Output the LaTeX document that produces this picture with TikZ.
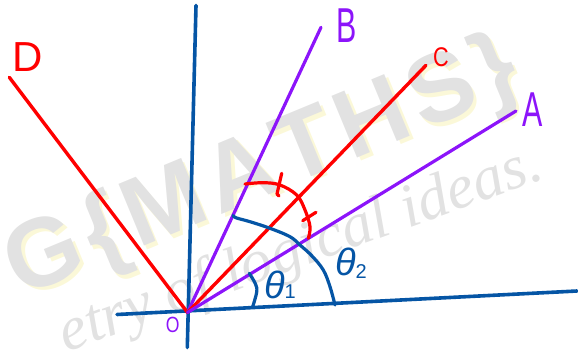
\documentclass[tikz,border=0pt]{standalone}
\usepackage{fontspec}
\setmainfont{Liberation Sans}
\newfontfamily\wmscript{Liberation Serif}
\definecolor{lblue}{RGB}{5,85,165}
\definecolor{lred}{RGB}{255,0,0}
\definecolor{lpurple}{RGB}{140,20,250}
\definecolor{wmgrey}{RGB}{226,226,226}
\definecolor{wmyellow}{RGB}{251,248,216}
\newcommand{\wmgap}{\hspace{7pt}}
\begin{document}
\begin{tikzpicture}[x=1pt,y=-1pt,line cap=round,line join=round,
  blueline/.style={draw=lblue,line width=3.6pt},
  redline/.style={draw=lred,line width=3.4pt},
  purpline/.style={draw=lpurple,line width=3.2pt},
  bluearc/.style={draw=lblue,line width=3.2pt},
  redarc/.style={draw=lred,line width=3.2pt},
  lbl/.style={inner sep=0pt,outer sep=0pt},
  thlbl/.style={lbl,text=lblue,font=\fontsize{38}{38}\selectfont\itshape},
  wmbig/.style={lbl,rotate=22.5,font=\fontsize{97}{97}\selectfont\bfseries},
  wmsmall/.style={lbl,text=wmgrey,rotate=20,font=\wmscript\fontsize{62}{62}\selectfont\itshape}]
\useasboundingbox (0,0) rectangle (578,351);
% watermark
\node[wmbig,text=wmyellow] (wm1s) at (266.5,173.5) {G\wmgap\{\wmgap M\wmgap A\wmgap T\wmgap H\wmgap S\wmgap\}};
\node[wmbig,text=wmgrey] (wm1) at (263,170) {G\wmgap\{\wmgap M\wmgap A\wmgap T\wmgap H\wmgap S\wmgap\}};
\node[wmsmall] (wm2) at (301,251) {etry of logical ideas.};
% points
\coordinate (O) at (187.5,312.5);
\coordinate (Hl) at (117,314.5);
\coordinate (Hr) at (577,291);
\coordinate (Vt) at (196,5.5);
\coordinate (Vb) at (187.3,347.5);
\coordinate (Dp) at (9.3,77.3);
\coordinate (Bp) at (321,27.3);
\coordinate (Cp) at (426,65.3);
\coordinate (Ap) at (516,111);
% axes
\draw[blueline] (Hl) -- (Hr);
\draw[blueline] (Vt) -- (Vb);
% rays
\draw[redline] (Dp) -- (O);
\draw[purpline] (Bp) -- (O);
\draw[redline] (Cp) -- (O);
\draw[purpline] (Ap) -- (O);
% angle marks
\draw[bluearc] plot[smooth,tension=0.6] coordinates {(249.3,273.3) (255.5,284) (256.7,292) (252.7,306.7)};
\draw[bluearc] plot[smooth,tension=0.6] coordinates {(233,215.5) (236,217.8) (250,221.7) (270,228.3) (290,236.7) (300,245) (312,256) (323.3,270) (330,286.7) (335,305)};
\draw[redarc] plot[smooth,tension=0.6] coordinates {(245,184) (263.3,182.7) (280,185) (296.7,195) (305,210) (310,226.7) (308.3,238.3)};
\draw[redarc] (281.7,173.3) -- (277,194) -- (279,196);
\draw[redarc] (302.7,220.7) -- (316,212.3);
% labels
\node[lbl,text=lred,font=\fontsize{42}{42}\selectfont] (D) at (28,57) {D};
\node[lbl,text=lpurple,font=\fontsize{49}{49}\selectfont] (B) at (347,26) {\scalebox{0.62}[1]{B}};
\node[lbl,text=lred,font=\fontsize{27}{27}\selectfont] (C) at (441,57.5) {\scalebox{0.8}[1]{C}};
\node[lbl,text=lpurple,font=\fontsize{49}{49}\selectfont] (A) at (533,110) {\scalebox{0.62}[1]{A}};
\node[lbl,text=lpurple,font=\fontsize{22}{22}\selectfont] (Ol) at (172.7,325) {\scalebox{0.8}[1]{O}};
\node[thlbl,anchor=base west] (t1) at (264,298) {θ\fontsize{20}{20}\selectfont\upshape 1};
\node[thlbl,anchor=base west] (t2) at (335,275) {θ\fontsize{20}{20}\selectfont\upshape\raisebox{-3pt}{2}};
\end{tikzpicture}
\end{document}
